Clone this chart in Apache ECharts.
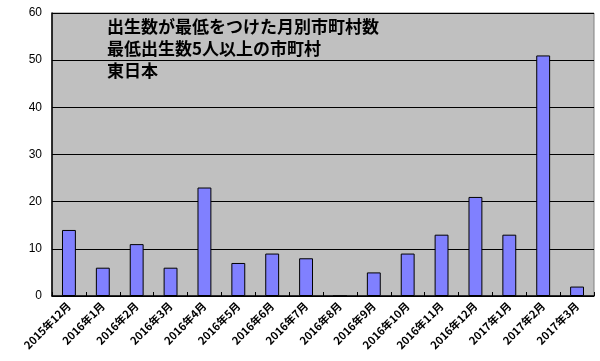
<!DOCTYPE html>
<html><head><meta charset="utf-8">
<script src="https://cdn.jsdelivr.net/npm/echarts@6/dist/echarts.min.js"></script>
<style>html,body{margin:0;padding:0;background:#fff}#c{width:600px;height:361px}</style>
</head><body><div id="c"></div>
<script>
const categories = ['2015年12月','2016年1月','2016年2月','2016年3月','2016年4月','2016年5月','2016年6月','2016年7月','2016年8月','2016年9月','2016年10月','2016年11月','2016年12月','2017年1月','2017年2月','2017年3月'];
const values = [14, 6, 11, 6, 23, 7, 9, 8, 0, 5, 9, 13, 21, 13, 51, 2];
const titleLines = ['出生数が最低をつけた月別市町村数', '最低出生数5人以上の市町村', '東日本'];

const chart = echarts.init(document.getElementById('c'), null, {renderer: 'canvas'});
chart.setOption({
  animation: false,
  backgroundColor: '#fff',
  title: {
    text: titleLines.join('\n'),
    left: 107, top: 16, padding: 0,
    textStyle: {fontFamily: 'Noto Sans CJK JP', fontWeight: 'bold', fontSize: 17, color: '#000', lineHeight: 22}
  },
  grid: {left: 52, right: 6, top: 13, bottom: 65, backgroundColor: '#c0c0c0', show: true, borderColor: '#808080', borderWidth: 1},
  xAxis: {
    type: 'category', data: categories,
    axisLine: {lineStyle: {color: '#000', width: 1.5}},
    axisTick: {show: true, inside: true, length: 4, lineStyle: {color: '#000'}},
    axisLabel: {rotate: 45, interval: 0, fontSize: 11, fontWeight: 'bold', color: '#000', fontFamily: 'Noto Sans CJK JP', margin: 8}
  },
  yAxis: {
    type: 'value', min: 0, max: 60, interval: 10,
    axisLine: {show: true, lineStyle: {color: '#000', width: 1.5}},
    axisTick: {show: false},
    splitLine: {lineStyle: {color: '#000', width: 1}},
    axisLabel: {fontSize: 12, color: '#000', fontFamily: 'Liberation Sans', margin: 10}
  },
  series: [{
    type: 'bar', data: values, barWidth: '41%',
    itemStyle: {color: '#8080ff', borderColor: '#000', borderWidth: 1}
  }]
});
</script></body></html>
